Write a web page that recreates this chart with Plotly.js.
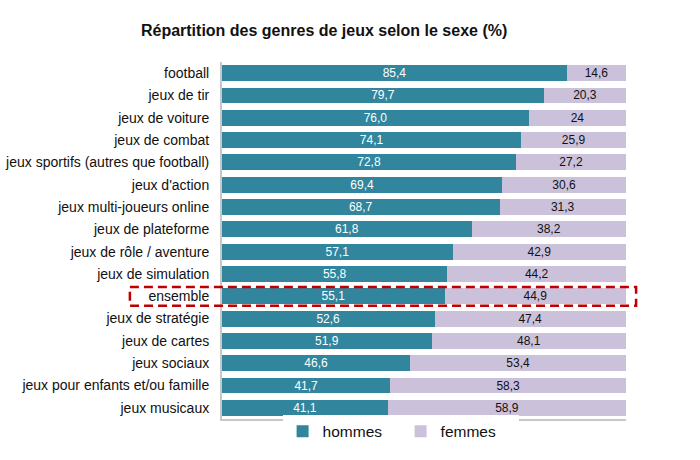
<!DOCTYPE html>
<html><head><meta charset="utf-8">
<script src="https://cdn.plot.ly/plotly-3.0.1.min.js"></script>
<style>body{margin:0;background:#fff}#c{width:700px;height:460px}</style>
</head><body><div id="c"></div>
<script>
const categories = ["football","jeux de tir","jeux de voiture","jeux de combat","jeux sportifs (autres que football)","jeux d'action","jeux multi-joueurs online","jeux de plateforme","jeux de rôle / aventure","jeux de simulation","ensemble","jeux de stratégie","jeux de cartes","jeux sociaux","jeux pour enfants et/ou famille","jeux musicaux"];
const hommes = [85.4,79.7,76.0,74.1,72.8,69.4,68.7,61.8,57.1,55.8,55.1,52.6,51.9,46.6,41.7,41.1];
const femmes = [14.6,20.3,24,25.9,27.2,30.6,31.3,38.2,42.9,44.2,44.9,47.4,48.1,53.4,58.3,58.9];
const highlighted = "ensemble";

const fmtH = v => v.toFixed(1).replace('.', ',');
const fmtF = v => String(v).replace('.', ',');

const traces = [
 {type:'bar', orientation:'h', name:'hommes', y:categories, x:hommes,
  text:hommes.map(fmtH), textposition:'inside', insidetextanchor:'middle', textangle:0, constraintext:'none',
  textfont:{color:'#ffffff', size:12, family:'Liberation Sans, Arial, sans-serif'},
  marker:{color:'#31859C'}, hoverinfo:'x+y'},
 {type:'bar', orientation:'h', name:'femmes', y:categories, x:femmes,
  text:femmes.map(fmtF), textposition:'inside', insidetextanchor:'middle', textangle:0, constraintext:'none',
  textfont:{color:'#111111', size:12, family:'Liberation Sans, Arial, sans-serif'},
  marker:{color:'#CCC1DA'}, hoverinfo:'x+y'}
];
const hi = categories.indexOf(highlighted);
const layout = {
 width:700, height:460, barmode:'stack', bargap:0.29,
 margin:{l:222, r:74, t:62, b:41, autoexpand:false},
 paper_bgcolor:'#fff', plot_bgcolor:'#fff',
 font:{family:'Liberation Sans, Arial, sans-serif', color:'#111', size:14},
 title:{text:'<b>Répartition des genres de jeux selon le sexe (%)</b>', x:0.463, xanchor:'center', y:0.933, yanchor:'middle', font:{size:16, color:'#111'}},
 xaxis:{range:[0,100], showticklabels:false, showgrid:false, zeroline:false, showline:true, linecolor:'#C8C8C8', linewidth:2, fixedrange:true},
 yaxis:{type:'category', autorange:'reversed', showgrid:false, showline:true, linecolor:'#C8C8C8', linewidth:2, ticks:'', ticklabelstandoff:8, tickfont:{size:14, color:'#111'}},
 showlegend:true,
 legend:{orientation:'h', x:0.15, xanchor:'left', y:0.012, yanchor:'top', font:{size:15.5, color:'#111'}, traceorder:'normal', itemwidth:30, entrywidth:73},
 shapes:[{type:'rect', xref:'paper', yref:'y', x0:-0.228, x1:1.025, y0:hi-0.42, y1:hi+0.42, line:{color:'#C00000', width:2.5, dash:'9px,5px'}, fillcolor:'rgba(0,0,0,0)'}]
};
Plotly.newPlot('c', traces, layout, {displayModeBar:false, staticPlot:true});
</script></body></html>
